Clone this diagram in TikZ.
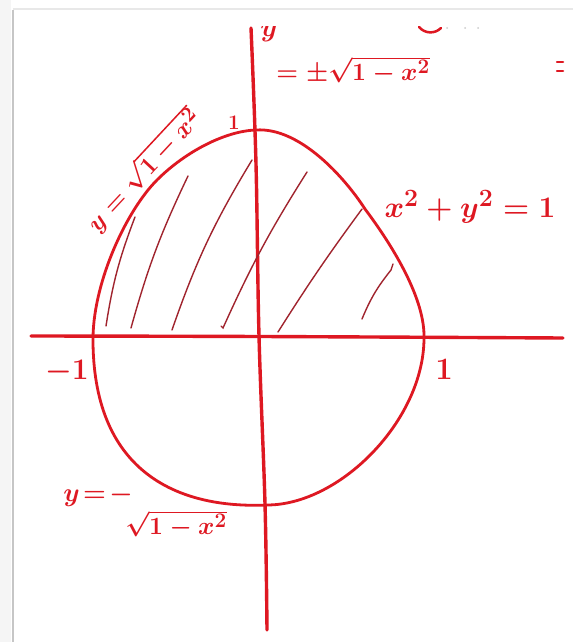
\documentclass[tikz,border=0pt]{standalone}
\definecolor{ink}{RGB}{222,24,34}
\definecolor{hatchc}{RGB}{160,36,46}
\begin{document}
\begin{tikzpicture}[x=1pt,y=-1pt,
  curve/.style={draw=ink,line width=2.8pt,line cap=round,line join=round},
  axis/.style={draw=ink,line width=3.4pt,line cap=round},
  hatchline/.style={draw=hatchc,line width=1.4pt,line cap=round},
  lbl/.style={text=ink,inner sep=0pt},
  big/.style={font=\fontsize{24.88}{28}\selectfont\boldmath}]
\useasboundingbox (0,0) rectangle (573,642);
\fill[white] (0,0) rectangle (573,642);
% page frame
\fill[gray!8] (0,0) rectangle (11,642);
\draw[gray!45,line width=2pt] (13,10) -- (13,642);
\draw[gray!18,line width=1.5pt] (13,9) -- (573,9);
% axes
\draw[axis] plot[smooth,tension=0.6] coordinates {(251,28) (256,164) (259,336) (265,504) (267,630)};
\draw[axis] plot[smooth,tension=0.6] coordinates {(31,336) (260,336.5) (563,338)};
% circle-like curve
\draw[curve] (256,130) .. controls (300,127) and (345,178) .. (365,209)
  .. controls (395,249) and (425,300) .. (424,338)
  .. controls (424,420) and (340,505) .. (267,505)
  .. controls (175,509) and (92,470) .. (93,337)
  .. controls (94,280) and (127,210) .. (157,180)
  .. controls (185,152) and (225,131) .. cycle;
% hatching
\draw[hatchline] (106,326) to[bend left=6] (135,217);
\draw[hatchline] (131,328) to[bend left=5] (188,176);
\draw[hatchline] (172,330) to[bend left=6] (252,160);
\draw[hatchline] (221,326) -- (223,328) to[bend left=4] (307,172);
\draw[hatchline] (278,332) to[bend left=2] (362,209);
\draw[hatchline] (362,319) to[bend left=8] (391,270) -- (393,264);
% labels
\node[lbl,big,scale=1.2] (xy) at (470,207) {$x^{2}+y^{2}=1$};
\node[lbl,big,scale=1.2] (mone) at (67,372) {$-1$};
\node[lbl,big,scale=1.25] (pone) at (444,369) {$1$};
\node[lbl,font=\fontsize{20}{22}\selectfont\boldmath] (topone) at (234,123) {$1$};
\node[lbl,big,rotate=47] (upper) at (143,170) {$y=\sqrt{1-x^2}$};
\node[lbl,big,scale=1.05] (ylow) at (98,496) {$y\mkern-3mu=\mkern-3mu-$};
\node[lbl,big] (sqlow) at (176,524) {$\sqrt{1-x^2}$};
\node[lbl,big] (topeq) at (353,70) {$=\pm\sqrt{1-x^2}$};
% cut-off fragments at the top
\begin{scope}
\clip (0,27) rectangle (573,642);
\node[lbl,big,scale=1.1] (ycut) at (269,33) {$y$};
\draw[ink,line width=2.5pt,line cap=round] (419,27) .. controls (425,34) and (435,34) .. (441,28);
\end{scope}
\fill[gray!40] (447,28) circle (1pt) (465,28) circle (1pt) (478,28) circle (1pt);
\draw[ink,line width=2.5pt,line cap=round] (557,62) -- (563,62) (557,71) -- (563,71);
\end{tikzpicture}
\end{document}
